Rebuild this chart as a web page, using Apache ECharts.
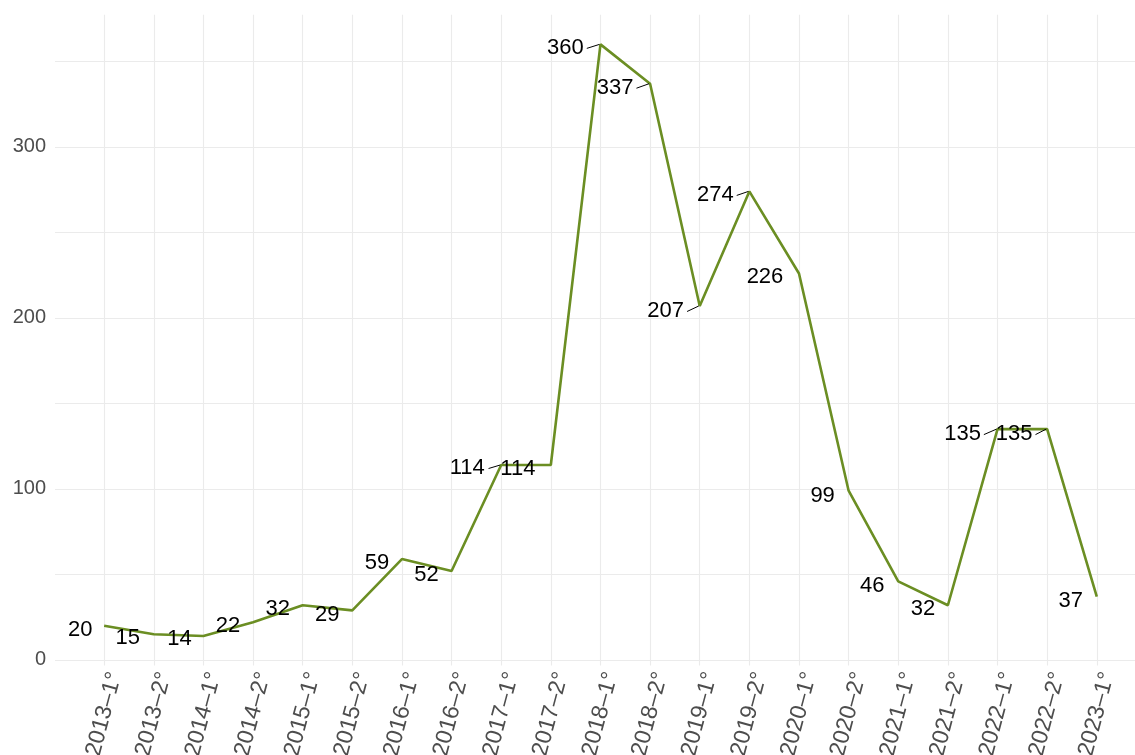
<!DOCTYPE html>
<html>
<head>
<meta charset="utf-8">
<script src="https://cdn.jsdelivr.net/npm/echarts@6/dist/echarts.min.js"></script>
<style>
html,body{margin:0;padding:0;background:#fff;}
#chart{width:1135px;height:755px;}
</style>
</head>
<body>
<div id="chart"></div>
<script>
// ---- data ----
const categories = ["2013–1°","2013–2°","2014–1°","2014–2°","2015–1°","2015–2°","2016–1°","2016–2°","2017–1°","2017–2°","2018–1°","2018–2°","2019–1°","2019–2°","2020–1°","2020–2°","2021–1°","2021–2°","2022–1°","2022–2°","2023–1°"];
const values = [20,15,14,22,32,29,59,52,114,114,360,337,207,274,226,99,46,32,135,135,37];
const yTicks = [0,50,100,150,200,250,300,350];
const yLabels = [0,100,200,300];

// ---- label placement (pixel nudges, like ggrepel result) ----
const labelNudge = [[-24,4],[-26,4],[-24,3],[-25,4],[-25,4],[-25,4.5],[-25,4],[-25,4],[-34,3],[-33,4],[-35,3.5],[-35,4],[-34,5],[-34,3.5],[-34,3.5],[-26,5],[-26,5],[-25,4],[-35,5],[-33,5],[-26,4]];
const labelSegment = [0,0,0,0,0,0,0,0,1,0,1,1,1,1,0,0,0,0,1,1,0];

const FONT = '"Liberation Sans", Arial, Helvetica, sans-serif';
const idx = categories.map((c,i)=>i);
const lineData = values.map((v,i)=>[idx[i], v]);

const chart = echarts.init(document.getElementById('chart'), null, {renderer:'canvas'});
chart.setOption({
  animation:false,
  backgroundColor:'#ffffff',
  grid:{left:55, right:0, top:14.8, bottom:89.4, containLabel:false, outerBoundsMode:'none'},
  xAxis:{
    type:'value', min:-0.99, max:20.77,
    axisLine:{show:false}, axisTick:{show:false, customValues: idx},
    splitLine:{show:true, lineStyle:{color:'#EBEBEB', width:1.1}},
    axisLabel:{customValues: idx, rotate:75, margin:4, fontSize:23, fontFamily:FONT, color:'#4D4D4D',
      align:'right', verticalAlign:'top', hideOverlap:false,
      formatter:(v)=>categories[Math.round(v)] || ''}
  },
  yAxis:{
    type:'value', min:-3.3, max:377.3,
    axisLine:{show:false}, axisTick:{show:false, customValues: yTicks},
    splitLine:{show:true, lineStyle:{color:'#EBEBEB', width:1.1}},
    axisLabel:{customValues: yLabels, margin:9, fontSize:20, fontFamily:FONT, color:'#4D4D4D'}
  },
  series:[
    {
      type:'line', data: lineData, showSymbol:false, symbol:'none',
      lineStyle:{color:'#6B8E23', width:2.6}, itemStyle:{color:'#6B8E23'},
      z:2
    },
    {
      type:'custom', data: lineData, clip:false, z:3,
      renderItem:(params, api)=>{
        const i = params.dataIndex;
        const p = api.coord([api.value(0), api.value(1)]);
        const n = labelNudge[i];
        const tx = p[0]+n[0], ty = p[1]+n[1];
        const txt = String(values[i]);
        const half = txt.length*0.556*22/2;
        const children = [];
        if (labelSegment[i]) {
          children.push({type:'line', shape:{x1:tx+half+3, y1:ty+0.5, x2:p[0]-1, y2:p[1]},
            style:{stroke:'#000', lineWidth:1}});
        }
        children.push({type:'text', style:{text:txt, x:tx, y:ty, align:'center', verticalAlign:'middle',
          fontSize:22, fontFamily:FONT, fill:'#000'}});
        return {type:'group', children};
      }
    }
  ]
});
</script>
</body>
</html>
